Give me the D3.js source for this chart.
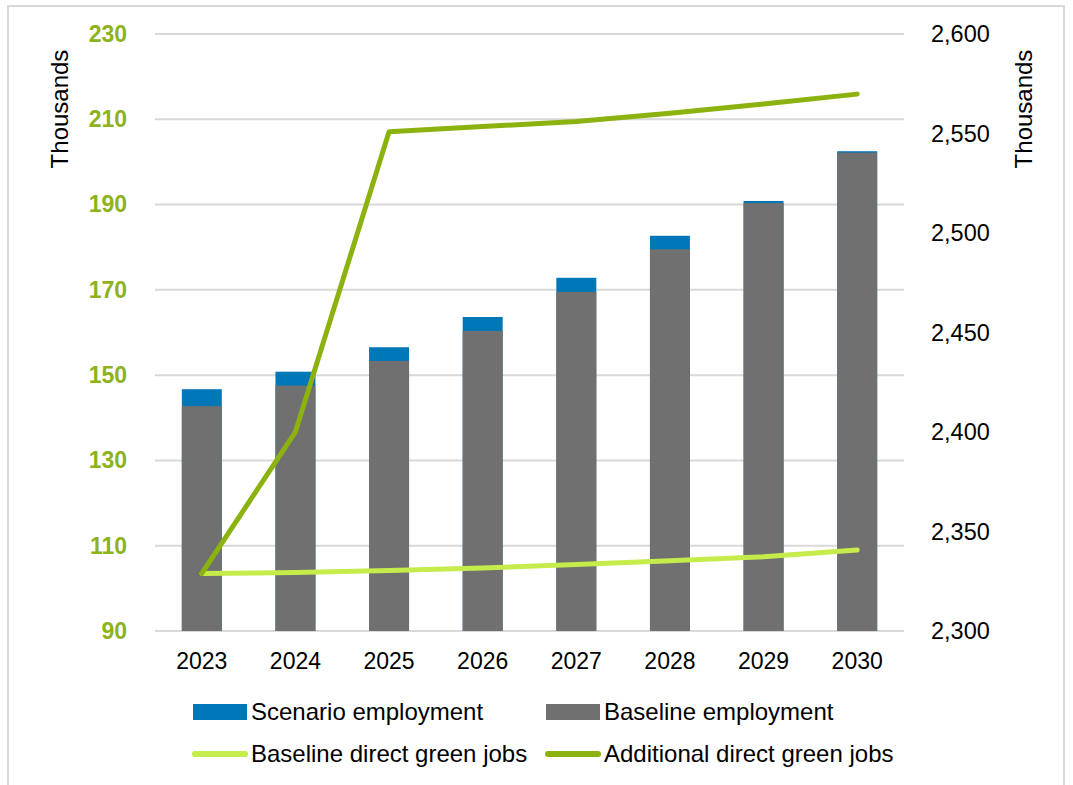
<!DOCTYPE html>
<html>
<head>
<meta charset="utf-8">
<script src="https://cdn.jsdelivr.net/npm/d3@7"></script>
<style>
  html, body { margin: 0; padding: 0; background: #fff; }
  svg { display: block; font-family: "Liberation Sans", Arial, sans-serif; }
</style>
</head>
<body>
<svg id="chart" width="1073" height="785"></svg>
<script>
// Employment (right axis, thousands) and direct green jobs (left axis, thousands)
const years = ["2023", "2024", "2025", "2026", "2027", "2028", "2029", "2030"];
const scenarioEmployment = [2421.5, 2430.3, 2442.6, 2457.8, 2477.5, 2498.6, 2516.1, 2541.1];
const baselineEmployment = [2413.0, 2423.3, 2435.7, 2450.8, 2470.4, 2491.8, 2515.1, 2540.4];
const baselineGreenJobs = [103.5, 103.7, 104.2, 104.8, 105.6, 106.5, 107.4, 109.0];
const additionalGreenJobs = [103.5, 136.7, 207.1, 208.3, 209.5, 211.4, 213.6, 215.9];
const leftTicks = [90, 110, 130, 150, 170, 190, 210, 230];
const rightTicks = [2300, 2350, 2400, 2450, 2500, 2550, 2600];

const colors = {
  scenario: "#0077b6",
  baseline: "#707070",
  baseGreen: "#c6ec4b",
  addGreen: "#8bb20f",
  leftText: "#8db31c",
  grid: "#d9d9d9"
};

const svg = d3.select("#chart");
const plot = { left: 155, right: 904, top: 34, bottom: 631 };

// outer frame
svg.append("rect")
  .attr("x", 8).attr("y", 6).attr("width", 1056).attr("height", 800)
  .attr("fill", "none").attr("stroke", "#d9d9d9").attr("stroke-width", 2);

const x = d3.scaleBand().domain(years)
  .range([plot.left, plot.right])
  .paddingInner(0.573).paddingOuter(0.2865);
const yLeft = d3.scaleLinear().domain([90, 230]).range([plot.bottom, plot.top]);
const yRight = d3.scaleLinear().domain([2300, 2600]).range([plot.bottom, plot.top]);

// gridlines follow the left axis ticks
svg.append("g").selectAll("line").data(leftTicks).join("line")
  .attr("x1", plot.left).attr("x2", plot.right)
  .attr("y1", d => yLeft(d)).attr("y2", d => yLeft(d))
  .attr("stroke", colors.grid).attr("stroke-width", 2);

// left axis
const axL = svg.append("g").attr("transform", `translate(${plot.left - 28},0)`)
  .call(d3.axisLeft(yLeft).tickValues(leftTicks).tickSize(0).tickPadding(0));
axL.select(".domain").remove();
axL.selectAll("text")
  .attr("fill", colors.leftText).attr("font-size", 23).attr("font-weight", "bold")
  .attr("font-family", "Liberation Sans, Arial, sans-serif");

// right axis
const axR = svg.append("g").attr("transform", `translate(${plot.right + 27},0)`)
  .call(d3.axisRight(yRight).tickValues(rightTicks).tickSize(0).tickPadding(0).tickFormat(d3.format(",")));
axR.select(".domain").remove();
axR.selectAll("text")
  .attr("fill", "#000").attr("font-size", 23.5)
  .attr("font-family", "Liberation Sans, Arial, sans-serif");

// x axis labels
const axX = svg.append("g").attr("transform", `translate(0,${plot.bottom + 22})`)
  .call(d3.axisBottom(x).tickSize(0).tickPadding(0));
axX.select(".domain").remove();
axX.selectAll("text")
  .attr("fill", "#000").attr("font-size", 23)
  .attr("font-family", "Liberation Sans, Arial, sans-serif");

// axis titles
svg.append("text").attr("transform", "translate(68,109) rotate(-90)")
  .attr("text-anchor", "middle").attr("font-size", 24).attr("fill", "#000").text("Thousands");
svg.append("text").attr("transform", "translate(1032,109) rotate(-90)")
  .attr("text-anchor", "middle").attr("font-size", 24).attr("fill", "#000").text("Thousands");

// bars: scenario behind, baseline in front
svg.append("g").selectAll("rect").data(years).join("rect")
  .attr("x", d => x(d)).attr("width", x.bandwidth())
  .attr("y", (d, i) => yRight(scenarioEmployment[i]))
  .attr("height", (d, i) => yRight(2300) - yRight(scenarioEmployment[i]))
  .attr("fill", colors.scenario);
svg.append("g").selectAll("rect").data(years).join("rect")
  .attr("x", d => x(d)).attr("width", x.bandwidth())
  .attr("y", (d, i) => yRight(baselineEmployment[i]))
  .attr("height", (d, i) => yRight(2300) - yRight(baselineEmployment[i]))
  .attr("fill", colors.baseline);

// lines
const cx = d => x(d) + x.bandwidth() / 2;
const lineGen = d3.line().x((d, i) => cx(years[i])).y(d => yLeft(d));
svg.append("path").datum(baselineGreenJobs).attr("d", lineGen)
  .attr("fill", "none").attr("stroke", colors.baseGreen).attr("stroke-width", 5)
  .attr("stroke-linecap", "round").attr("stroke-linejoin", "round");
svg.append("path").datum(additionalGreenJobs).attr("d", lineGen)
  .attr("fill", "none").attr("stroke", colors.addGreen).attr("stroke-width", 5)
  .attr("stroke-linecap", "round").attr("stroke-linejoin", "round");

// legend
const legend = [
  { label: "Scenario employment", type: "rect", color: colors.scenario, x: 193, y: 712 },
  { label: "Baseline employment", type: "rect", color: colors.baseline, x: 546, y: 712 },
  { label: "Baseline direct green jobs", type: "line", color: colors.baseGreen, x: 193, y: 754 },
  { label: "Additional direct green jobs", type: "line", color: colors.addGreen, x: 546, y: 754 }
];
const lg = svg.append("g").selectAll("g").data(legend).join("g");
lg.filter(d => d.type === "rect").append("rect")
  .attr("x", d => d.x).attr("y", d => d.y - 8).attr("width", 54).attr("height", 16)
  .attr("fill", d => d.color);
lg.filter(d => d.type === "line").append("line")
  .attr("x1", d => d.x + 2).attr("x2", d => d.x + 52).attr("y1", d => d.y).attr("y2", d => d.y)
  .attr("stroke", d => d.color).attr("stroke-width", 6).attr("stroke-linecap", "round");
lg.append("text")
  .attr("x", d => d.x + 58).attr("y", d => d.y + 8)
  .attr("font-size", 24).attr("fill", "#000")
  .text(d => d.label);
</script>
</body>
</html>
